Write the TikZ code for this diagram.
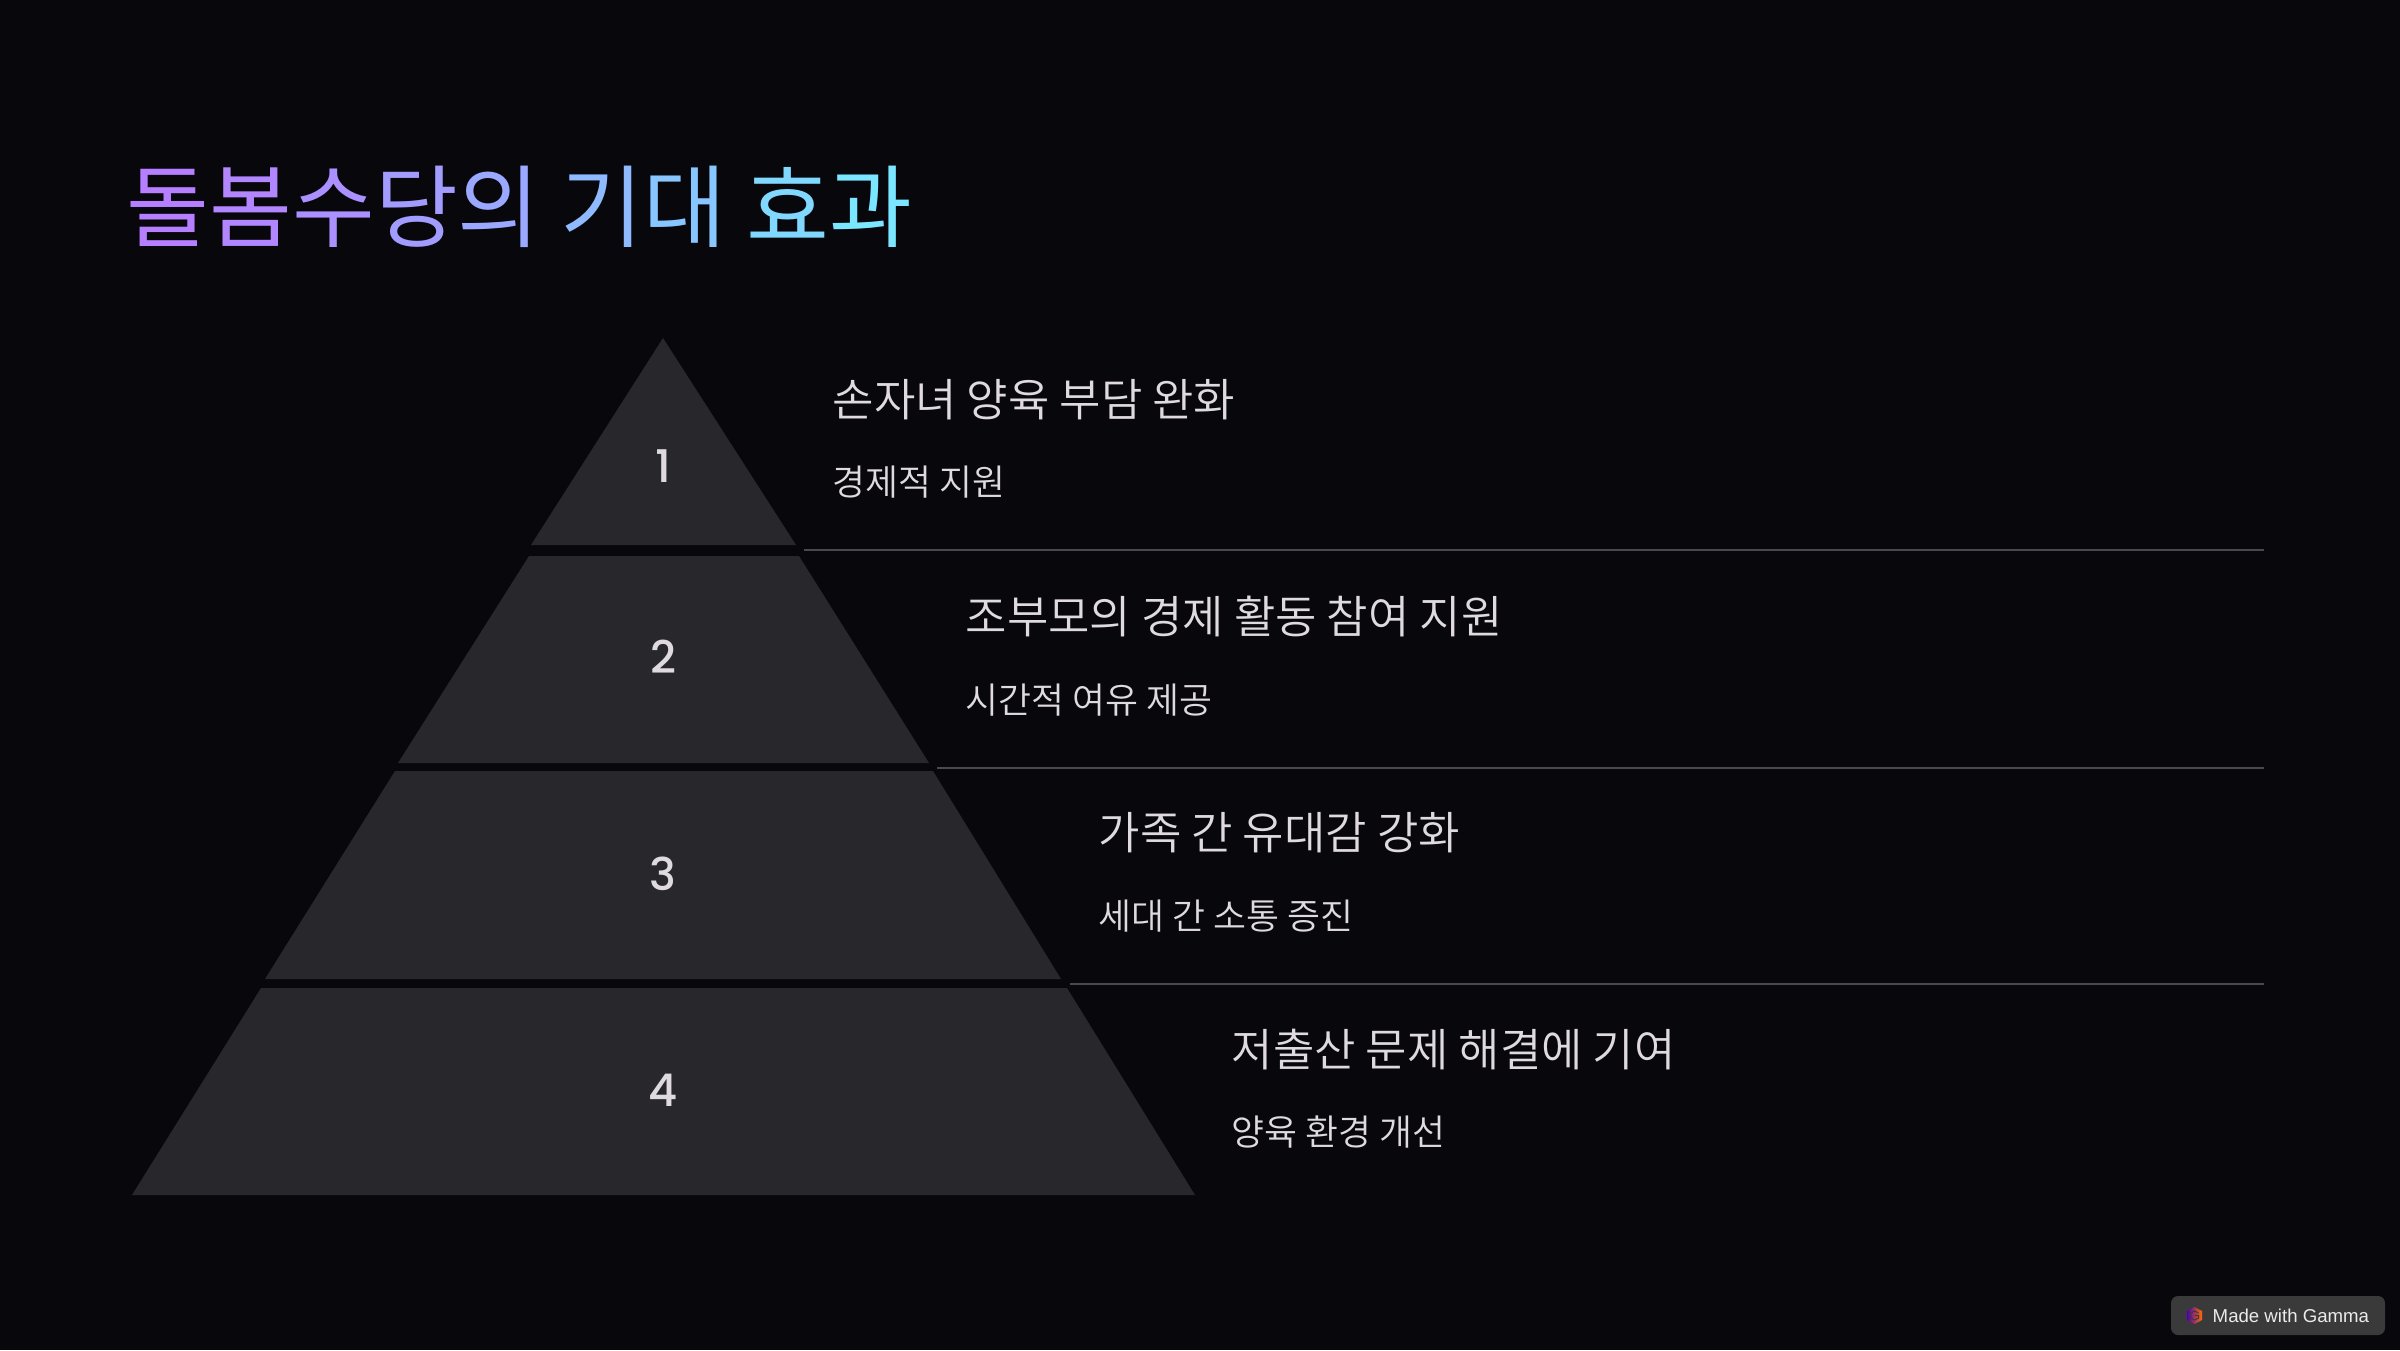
\documentclass[tikz,border=0pt]{standalone}
\usepackage{fontspec}
\setmainfont{Noto Sans CJK KR DemiLight}
\newfontfamily\titlefont{Noto Sans CJK KR}
\newfontfamily\digitfont{Poppins Medium}
\newfontfamily\badgefont{Liberation Sans}
\usepackage{xcolor}
\definecolor{pagebg}{HTML}{07070C}
\definecolor{tierfill}{HTML}{28282C}
\definecolor{inktext}{HTML}{DFDADF}
\definecolor{ruleline}{HTML}{4A4A4E}
\definecolor{badgefill}{HTML}{3A3A3A}
\definecolor{gradA}{HTML}{B67FFF}
\definecolor{gradB}{HTML}{B286FF}
\definecolor{gradC}{HTML}{AB90FF}
\definecolor{gradD}{HTML}{A39CFF}
\definecolor{gradE}{HTML}{9AA8FF}
\definecolor{gradF}{HTML}{8FBAFF}
\definecolor{gradG}{HTML}{88C6FF}
\definecolor{gradH}{HTML}{80D8FF}
\definecolor{gradI}{HTML}{7AE6FF}

\begin{document}
\begin{tikzpicture}[
    tier/.style={fill=tierfill},
    tiernum/.style={text=inktext, font=\digitfont\fontsize{12.8}{15}\selectfont},
    headline/.style={anchor=base west, inner sep=0pt, text=inktext, font=\fontsize{12.8}{15}\selectfont},
    subline/.style={anchor=base west, inner sep=0pt, text=inktext, font=\fontsize{10.2}{12}\selectfont},
    sepline/.style={draw=ruleline, line width=0.4pt}]
  \useasboundingbox (0, 0) rectangle (24, 13.5);
  \fill[pagebg] (0, 0) rectangle (24, 13.5);

  \node[anchor=base west, inner sep=0pt, font=\titlefont\fontsize{25.6}{30}\selectfont] (title) at (1.26, 11.09)
    {\textcolor{gradA}{돌}\textcolor{gradB}{봄}\textcolor{gradC}{수}\textcolor{gradD}{당}\textcolor{gradE}{의} \textcolor{gradF}{기}\textcolor{gradG}{대} \textcolor{gradH}{효}\textcolor{gradI}{과}};

  \fill[tier] (6.63, 10.12) -- (7.96, 8.05) -- (5.31, 8.05) -- cycle;
  \node[tiernum] (num1) at (6.63, 8.84) {1};
  \node[headline] (head1) at (8.32, 9.34) {손자녀 양육 부담 완화};
  \node[subline] (sub1) at (8.32, 8.55) {경제적 지원};
  \draw[sepline] (8.04, 8.00) -- (22.64, 8.00);

  \fill[tier] (5.29, 7.94) -- (7.99, 7.94) -- (9.29, 5.87) -- (3.98, 5.87) -- cycle;
  \node[tiernum] (num2) at (6.63, 6.93) {2};
  \node[headline] (head2) at (9.65, 7.17) {조부모의 경제 활동 참여 지원};
  \node[subline] (sub2) at (9.65, 6.37) {시간적 여유 제공};
  \draw[sepline] (9.37, 5.82) -- (22.64, 5.82);

  \fill[tier] (3.95, 5.79) -- (9.33, 5.79) -- (10.61, 3.71) -- (2.65, 3.71) -- cycle;
  \node[tiernum] (num3) at (6.63, 4.76) {3};
  \node[headline] (head3) at (10.98, 5.01) {가족 간 유대감 강화};
  \node[subline] (sub3) at (10.98, 4.21) {세대 간 소통 증진};
  \draw[sepline] (10.70, 3.66) -- (22.64, 3.66);

  \fill[tier] (2.61, 3.62) -- (10.67, 3.62) -- (11.95, 1.55) -- (1.32, 1.55) -- cycle;
  \node[tiernum] (num4) at (6.63, 2.60) {4};
  \node[headline] (head4) at (12.31, 2.84) {저출산 문제 해결에 기여};
  \node[subline] (sub4) at (12.31, 2.05) {양육 환경 개선};

  \fill[badgefill, rounded corners=0.07cm] (21.71, 0.15) rectangle (23.85, 0.54);
  \shade[left color=violet!60!blue, right color=orange!85!red] (21.945, 0.43) -- (22.02, 0.39) -- (22.02, 0.30) -- (21.945, 0.26) -- (21.87, 0.30) -- (21.87, 0.39) -- cycle;
  \draw[badgefill, line width=0.3pt] (21.985, 0.37) -- (21.945, 0.39) -- (21.905, 0.37) -- (21.905, 0.32) -- (21.945, 0.30) -- (21.985, 0.32) -- (21.985, 0.345) -- (21.95, 0.345);
  \node[anchor=base west, inner sep=0pt, text=white!92!black, font=\badgefont\fontsize{5.3}{6}\selectfont] (badge) at (22.12, 0.28) {Made with Gamma};
\end{tikzpicture}
\end{document}
